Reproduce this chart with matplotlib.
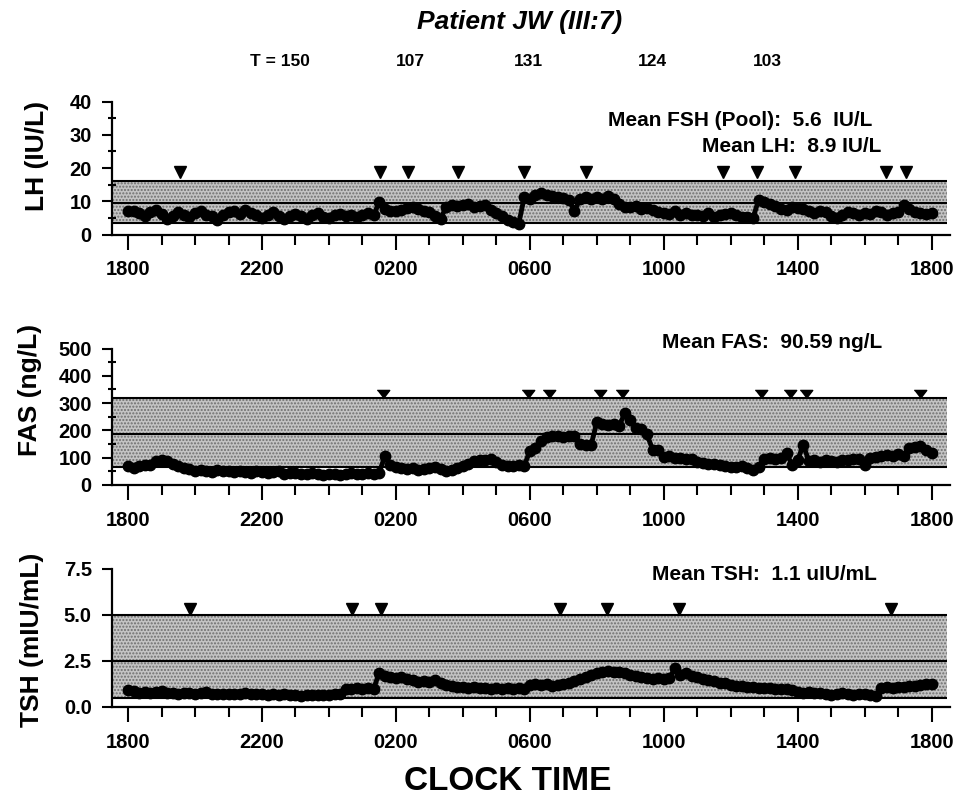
"""Patient JW (III:7): 24 h profiles of LH, FAS and TSH with pulse markers."""

import numpy as np
import matplotlib
matplotlib.use("Agg")
import matplotlib.pyplot as plt
from matplotlib.transforms import offset_copy

plt.rcParams['font.family'] = ['Liberation Sans', 'DejaVu Sans']
plt.rcParams['font.weight'] = 'bold'

# samples every 10 min, starting at 1800 (one row = one hour)
lh_vals = [
    7.2, 7.0, 6.5, 5.5, 6.8, 7.5,
    6.2, 4.8, 5.5, 6.8, 6.0, 5.2,
    6.5, 7.2, 6.0, 5.5, 4.5, 5.8,
    6.8, 7.0, 6.2, 7.4, 6.5, 5.8,
    5.0, 6.0, 6.8, 5.5, 4.8, 5.5,
    6.2, 5.5, 4.8, 5.8, 6.5, 5.2,
    5.0, 5.8, 6.2, 5.5, 6.0, 5.2,
    6.0, 6.5, 5.8, 9.8, 7.8, 7.2,
    7.0, 7.5, 8.0, 8.3, 7.6, 7.0,
    6.8, 5.5, 4.8, 8.2, 9.0, 8.6,
    8.8, 9.2, 8.4, 8.6, 9.0, 7.5,
    6.5, 5.5, 4.5, 3.8, 3.2, 11.2,
    10.8, 12.0, 12.5, 11.8, 11.6, 11.2,
    11.0, 10.4, 7.2, 10.6, 11.2, 10.6,
    11.4, 10.8, 11.6, 10.6, 9.2, 8.4,
    8.2, 8.6, 7.6, 8.0, 7.4, 6.8,
    6.6, 6.2, 7.0, 6.0, 6.4, 5.8,
    5.8, 5.6, 6.4, 5.4, 5.8, 6.2,
    6.4, 5.8, 5.4, 5.2, 5.0, 10.4,
    9.8, 9.2, 8.6, 7.6, 7.4, 8.4,
    8.0, 7.6, 7.0, 6.6, 7.2, 6.8,
    5.6, 5.0, 6.0, 6.8, 6.4, 5.8,
    6.6, 6.2, 7.0, 6.8, 6.0, 6.6,
    6.8, 9.0, 7.6, 6.8, 6.6, 6.2,
    6.4,
]

fas_vals = [
    68, 62, 70, 72, 75, 88,
    92, 88, 78, 70, 62, 58,
    52, 55, 50, 48, 55, 52,
    50, 46, 52, 48, 45, 50,
    48, 44, 46, 50, 42, 45,
    44, 40, 42, 45, 40, 38,
    40, 42, 38, 40, 43, 40,
    42, 44, 40, 45, 105, 72,
    65, 62, 58, 62, 55, 60,
    62, 66, 58, 52, 56, 62,
    70, 78, 88, 92, 90, 94,
    85, 72, 70, 68, 72, 70,
    125, 134, 160, 175, 178, 180,
    176, 180, 178, 150, 145, 148,
    230, 225, 218, 222, 216, 262,
    238, 210, 205, 185, 130, 128,
    104, 106, 100, 98, 96, 94,
    85, 80, 78, 76, 72, 68,
    66, 65, 68, 62, 55, 66,
    96, 98, 94, 100, 116, 74,
    90, 148, 88, 90, 85, 92,
    88, 86, 92, 90, 94, 96,
    72, 98, 104, 108, 110, 106,
    112, 108, 135, 140, 142, 130,
    116,
]

tsh_vals = [
    0.92, 0.85, 0.78, 0.82, 0.75, 0.80,
    0.88, 0.78, 0.75, 0.72, 0.76, 0.74,
    0.72, 0.75, 0.80, 0.72, 0.70, 0.73,
    0.70, 0.72, 0.68, 0.75, 0.70, 0.68,
    0.70, 0.66, 0.68, 0.65, 0.68, 0.64,
    0.66, 0.62, 0.65, 0.63, 0.66, 0.64,
    0.65, 0.68, 0.72, 0.95, 1.00, 1.02,
    1.00, 1.02, 0.98, 1.85, 1.70, 1.62,
    1.55, 1.60, 1.50, 1.45, 1.38, 1.42,
    1.35, 1.48, 1.30, 1.20, 1.15, 1.10,
    1.10, 1.05, 1.08, 1.02, 1.05, 1.00,
    1.02, 0.98, 1.05, 1.00, 1.02, 0.98,
    1.20, 1.25, 1.18, 1.22, 1.15, 1.20,
    1.25, 1.32, 1.40, 1.50, 1.60, 1.72,
    1.85, 1.90, 1.95, 1.92, 1.90, 1.85,
    1.75, 1.68, 1.60, 1.55, 1.52, 1.56,
    1.52, 1.55, 2.10, 1.75, 1.85, 1.70,
    1.60, 1.52, 1.45, 1.40, 1.32, 1.28,
    1.20, 1.15, 1.12, 1.08, 1.10, 1.05,
    1.02, 1.05, 0.98, 0.95, 0.98, 0.90,
    0.82, 0.78, 0.80, 0.75, 0.78, 0.72,
    0.64, 0.70, 0.74, 0.68, 0.66, 0.70,
    0.68, 0.64, 0.62, 1.02, 1.08, 1.05,
    1.10, 1.08, 1.12, 1.15, 1.18, 1.22,
    1.25,
]

# pulse times (hours after 1800)
lh_pulses = [1.55, 7.52, 8.37, 9.86, 11.82, 13.67, 17.77, 18.79, 19.91, 22.65, 23.24]
fas_pulses = [7.62, 11.95, 12.58, 14.09, 14.74, 18.91, 19.76, 20.24, 23.64]
tsh_pulses = [1.85, 6.69, 7.55, 12.9, 14.3, 16.45, 22.8]

# shaded reference ranges (low, mid line, high)
lh_band = (3.5, 9.5, 16.1)
fas_band = (65, 188, 320)
tsh_band = (0.5, 2.5, 5.0)

xtick_hours = [0, 4, 8, 12, 16, 20, 24]
xtick_labels = ['1800', '2200', '0200', '0600', '1000', '1400', '1800']

interval_hours = [4.54, 8.42, 11.97, 15.67, 19.1]
interval_labels = ['T = 150', '107', '131', '124', '103']

W, H = 959, 796
fig = plt.figure(figsize=(W / 100, H / 100), dpi=100)


def add_panel(top_px, bottom_px):
    left, right = 112, 950
    return fig.add_axes([left / W, 1 - bottom_px / H,
                         (right - left) / W, (bottom_px - top_px) / H])


def draw_panel(ax, vals, band, pulses, ylim, yticks, ylabels, yminor,
               tri_marker, tri_size, tri_off):
    t = np.arange(len(vals)) / 6.0
    xlo, xhi = -0.48, 24.55
    ax.set_xlim(xlo, xhi)
    ax.set_ylim(*ylim)

    xs = [xlo, 24.45]
    ax.fill_between(xs, band[0], band[2], facecolor='#c4c4c4',
                    hatch='.....', edgecolor='#6e6e6e', linewidth=0, zorder=1)
    for yv in band:
        ax.plot(xs, [yv, yv], color='black', lw=1.5, zorder=2,
                solid_capstyle='butt')

    ax.plot(t, vals, '-o', color='black', lw=3.5, ms=7.5, zorder=3)

    tr = offset_copy(ax.transData, fig=fig, x=0, y=tri_off, units='points')
    ax.plot(pulses, [band[2]] * len(pulses), linestyle='none',
            marker=tri_marker, ms=tri_size, color='black', transform=tr,
            clip_on=False, zorder=4)

    for side in ('top', 'right'):
        ax.spines[side].set_visible(False)
    for side in ('left', 'bottom'):
        ax.spines[side].set_linewidth(1.6)
    ax.spines['left'].set_bounds(ylim[0], ylim[1])

    ax.set_xticks(xtick_hours)
    ax.set_xticklabels(xtick_labels)
    ax.set_xticks(np.arange(0, 25), minor=True)
    ax.tick_params(axis='x', which='major', direction='out', length=10.5,
                   width=1.5, pad=8, labelsize=14.5)
    ax.tick_params(axis='x', which='minor', direction='out', length=7,
                   width=1.5)

    ax.set_yticks(yticks)
    ax.set_yticklabels(ylabels)
    ax.set_yticks(yminor, minor=True)
    ax.tick_params(axis='y', which='major', direction='out', length=7.5,
                   width=1.5, pad=7, labelsize=14.5)
    ax.tick_params(axis='y', which='minor', direction='inout', length=5.5,
                   width=1.5)
    ax.patch.set_visible(False)


ax1 = add_panel(101.5, 234.5)
draw_panel(ax1, lh_vals, lh_band, lh_pulses, (0, 40), [0, 10, 20, 30, 40],
           ['0', '10', '20', '30', '40'], [5, 15, 25, 35], 'v', 8.5, 6.5)

flat_tri = [(-1, 0.65), (1, 0.65), (0, -0.65)]
ax2 = add_panel(348.5, 485)
draw_panel(ax2, fas_vals, fas_band, fas_pulses, (0, 500),
           [0, 100, 200, 300, 400, 500],
           ['0', '100', '200', '300', '400', '500'],
           [50, 150, 250, 350, 450], flat_tri, 9, 2.8)

ax3 = add_panel(568.5, 707)
draw_panel(ax3, tsh_vals, tsh_band, tsh_pulses, (0, 7.5), [0, 2.5, 5.0, 7.5],
           ['0.0', '2.5', '5.0', '7.5'], [], 'v', 8.5, 4.3)


def ftext(x, y, s, **kw):
    fig.text(x / W, 1 - y / H, s, ha='center', va='center', **kw)


ftext(520, 22, 'Patient JW (III:7)', fontsize=19, style='italic')

for hr, lab in zip(interval_hours, interval_labels):
    ax1.text(hr, 1.30, lab, transform=ax1.get_xaxis_transform(),
             ha='center', va='center', fontsize=12.5)

ftext(740, 120, 'Mean FSH (Pool):  5.6  IU/L', fontsize=15)
ftext(792, 147, 'Mean LH:  8.9 IU/L', fontsize=15)
ftext(772, 343, 'Mean FAS:  90.59 ng/L', fontsize=15)
ftext(764, 574, 'Mean TSH:  1.1 uIU/mL', fontsize=15)

ftext(37, 156, 'LH (IU/L)', fontsize=19, rotation=90)
ftext(30, 390, 'FAS (ng/L)', fontsize=19, rotation=90)
ftext(32, 640, 'TSH (mIU/mL)', fontsize=19, rotation=90)

ftext(508, 781, 'CLOCK TIME', fontsize=24)

fig.savefig('out.png', dpi=100)
